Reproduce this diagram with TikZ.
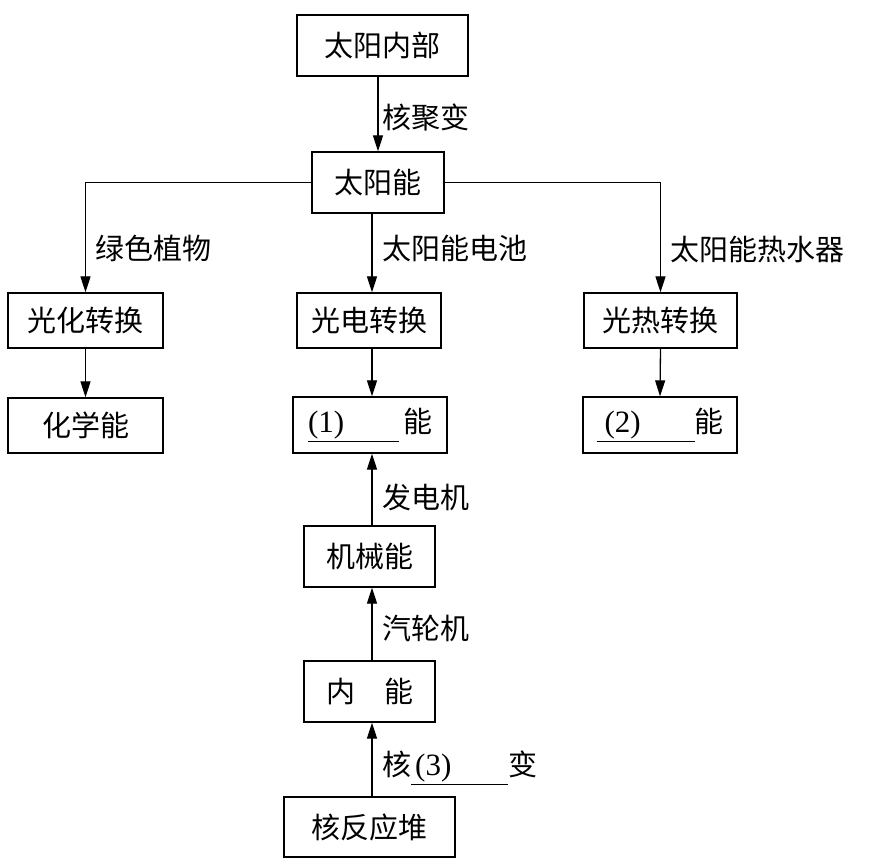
\documentclass[tikz,border=0pt]{standalone}
\usepackage{fontspec}
\setmainfont{Liberation Serif}
\newfontfamily\cjk{Noto Sans CJK SC}
\usetikzlibrary{arrows.meta}
\newcommand{\dg}[1]{{\rmfamily\fontsize{31}{33}\selectfont #1}}
\newcommand{\blank}[2]{\makebox[#1][l]{\rlap{\rule[-10pt]{#1}{1.1pt}}#2}}
\begin{document}
\begin{tikzpicture}[x=1pt,y=-1pt,
  box/.style={draw, line width=1.3pt, inner sep=0pt, font=\cjk\fontsize{29}{31}\selectfont, align=center},
  lbl/.style={anchor=west, inner sep=0pt, font=\cjk\fontsize{29}{31}\selectfont},
  arr/.style={line width=1.3pt, -{Triangle[length=16pt,width=10pt]}},
  ln/.style={line width=1.3pt}]
\useasboundingbox (0,0) rectangle (870,866);
\fill[white] (0,0) rectangle (870,866);
% boxes
\node[box, minimum width=171pt, minimum height=61pt] (top) at (382.5,45.5) {太阳内部};
\node[box, minimum width=132pt, minimum height=61pt] (sun) at (378,182.5) {太阳能};
\node[box, minimum width=155pt, minimum height=55pt] (gh) at (85.5,320.5) {光化转换};
\node[box, minimum width=144pt, minimum height=55pt] (gd) at (369,320.5) {光电转换};
\node[box, minimum width=153pt, minimum height=55pt] (gr) at (660.5,320.5) {光热转换};
\node[box, minimum width=155pt, minimum height=55pt] (hx) at (85.5,425.5) {化学能};
\node[box, minimum width=154pt, minimum height=56pt] (e1) at (370,425) {\blank{91pt}{\dg{(1)}}\hspace{4pt}能};
\node[box, minimum width=154pt, minimum height=56pt] (e2) at (660,425) {\blank{98pt}{\hspace{8pt}\dg{(2)}}能};
\node[box, minimum width=131pt, minimum height=61pt] (jx) at (369.5,556.5) {机械能};
\node[box, minimum width=131pt, minimum height=61pt] (nn) at (369.5,691.5) {内\hspace{29pt}能};
\node[box, minimum width=171pt, minimum height=60pt] (hf) at (369.5,827) {核反应堆};
\coordinate (mc) at (372,0);
% connectors
\draw[arr] (top.south -| sun.north) -- (sun.north);
\draw[arr] (sun.west) -| (gh.north);
\draw[arr] (sun.east) -| (gr.north);
\draw[arr] (sun.south -| mc) -- (gd.north -| mc);
\draw[arr] (gh.south) -- (hx.north);
\draw[arr] (gd.south -| mc) -- (e1.north -| mc);
\draw[arr] (gr.south) -- (e2.north);
\draw[arr] (jx.north -| mc) -- (e1.south -| mc);
\draw[arr] (nn.north -| mc) -- (jx.south -| mc);
\draw[arr] (hf.north -| mc) -- (nn.south -| mc);
% labels
\node[lbl] (l1) at (382,117) {核聚变};
\node[lbl] (l2) at (95,248) {绿色植物};
\node[lbl] (l3) at (382,248) {太阳能电池};
\node[lbl] (l4) at (670,250) {太阳能热水器};
\node[lbl] (l5) at (382,497) {发电机};
\node[lbl] (l6) at (382,628) {汽轮机};
\node[lbl] (l7) at (382,768) {核\blank{97pt}{\hspace{4pt}\dg{(3)}}变};
\end{tikzpicture}
\end{document}
